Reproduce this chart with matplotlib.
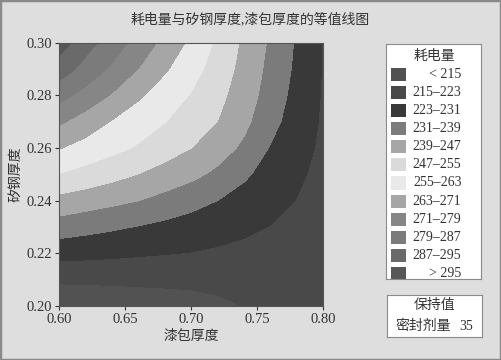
import numpy as np
import matplotlib
matplotlib.use('Agg')
import matplotlib.pyplot as plt
from matplotlib.patches import Rectangle

plt.rcParams['font.family'] = ['Liberation Serif', 'Noto Sans CJK SC']
plt.rcParams['axes.unicode_minus'] = False
text_color = '#333333'
bg_color = '#dedede'

# grid: 漆包厚度 (x) and 矽钢厚度 (y)
qibao = [0.60, 0.62, 0.64, 0.66, 0.68, 0.70, 0.72, 0.74, 0.76, 0.78, 0.80]
guigang = [0.20, 0.21, 0.22, 0.23, 0.24, 0.25, 0.26, 0.27, 0.28, 0.29, 0.30]

# 耗电量, one row per 矽钢厚度 value (bottom to top)
haodian = [
    [207.7, 208.1, 208.5, 209.2, 209.9, 210.8, 213.0, 215.2, 215.8, 216.2, 216.5],
    [216.5, 216.7, 216.9, 217.2, 217.5, 217.8, 218.0, 218.2, 218.3, 218.4, 218.4],
    [225.8, 225.2, 224.6, 223.9, 223.3, 222.8, 222.0, 221.3, 220.6, 220.0, 219.5],
    [235.2, 233.7, 232.2, 230.7, 229.1, 227.5, 225.9, 224.3, 222.8, 221.5, 220.5],
    [244.5, 242.7, 240.9, 239.1, 236.5, 233.8, 231.0, 228.2, 225.4, 222.8, 221.0],
    [254.7, 252.3, 249.6, 246.9, 243.9, 241.0, 237.3, 232.2, 228.0, 224.2, 221.0],
    [263.4, 260.2, 257.2, 254.1, 250.6, 247.0, 242.6, 237.5, 230.5, 226.0, 221.5],
    [272.3, 267.3, 262.5, 258.8, 255.2, 251.1, 246.9, 240.9, 233.5, 227.2, 222.0],
    [281.8, 276.3, 270.3, 264.1, 259.2, 254.5, 249.2, 242.9, 235.6, 228.3, 222.3],
    [291.3, 284.1, 277.7, 270.8, 263.9, 257.9, 251.5, 244.3, 236.8, 229.4, 222.5],
    [299.0, 290.1, 283.1, 276.1, 268.7, 261.2, 253.6, 245.4, 237.8, 230.0, 222.5],
]

levels = [150, 215, 223, 231, 239, 247, 255, 263, 271, 279, 287, 295, 350]
level_labels = ['< 215', '215–223', '223–231', '231–239', '239–247', '247–255',
                '255–263', '263–271', '271–279', '279–287', '287–295', '> 295']
level_colors = ['#525252', '#494949', '#393939', '#7b7b7b', '#a6a6a6', '#dadada',
                '#e9e9e9', '#a6a6a6', '#868686', '#7b7b7b', '#6a6a6a', '#575757']

fig = plt.figure(figsize=(5.01, 3.6), dpi=100, facecolor=bg_color)
fig.patches.append(Rectangle((0, 0), 1, 1, transform=fig.transFigure, fill=False,
                             edgecolor='#8a8a8a', linewidth=2.5))

ax = fig.add_axes([0.1184, 0.1508, 0.527, 0.7306])
X, Y = np.meshgrid(qibao, guigang)
ax.contourf(X, Y, np.array(haodian), levels=levels, colors=level_colors)
ax.set_xlim(0.60, 0.80)
ax.set_ylim(0.20, 0.30)
ax.set_xticks([0.60, 0.65, 0.70, 0.75, 0.80])
ax.set_yticks([0.20, 0.22, 0.24, 0.26, 0.28, 0.30])
ax.xaxis.set_major_formatter(plt.FormatStrFormatter('%.2f'))
ax.yaxis.set_major_formatter(plt.FormatStrFormatter('%.2f'))
ax.tick_params(labelsize=10.5, colors=text_color, length=3, width=0.8, pad=2)
for sp in ax.spines.values():
    sp.set_color('#555555')
    sp.set_linewidth(0.8)
ax.set_xlabel('漆包厚度', fontsize=10, color=text_color, labelpad=3)
ax.set_ylabel('矽钢厚度', fontsize=10, color=text_color, labelpad=3)

fig.text(0.499, 0.948, '耗电量与矽钢厚度,漆包厚度的等值线图', ha='center', va='center',
         fontsize=10, color=text_color)

# legend box
lg = fig.add_axes([0.771, 0.225, 0.190, 0.653])
lg.set_xlim(0, 1)
lg.set_ylim(0, 1)
lg.set_xticks([])
lg.set_yticks([])
lg.set_facecolor('white')
for sp in lg.spines.values():
    sp.set_color('#8a8a8a')
    sp.set_linewidth(0.8)
lg.text(0.5, 0.948, '耗电量', ha='center', va='center', fontsize=10, color=text_color)
step = 0.0771
for i, (lab, col) in enumerate(zip(level_labels, level_colors)):
    yc = 0.871 - i * step
    lg.add_patch(Rectangle((0.05, yc - 0.028), 0.16, 0.056, facecolor=col, edgecolor='none'))
    lg.text(0.79, yc, lab, ha='right', va='center', fontsize=10, color=text_color)

# hold value box
hb = fig.add_axes([0.773, 0.065, 0.189, 0.116])
hb.set_xlim(0, 1)
hb.set_ylim(0, 1)
hb.set_xticks([])
hb.set_yticks([])
hb.set_facecolor('white')
for sp in hb.spines.values():
    sp.set_color('#8a8a8a')
    sp.set_linewidth(0.8)
hb.text(0.5, 0.74, '保持值', ha='center', va='center', fontsize=10, color=text_color)
hb.text(0.09, 0.25, '密封剂量', ha='left', va='center', fontsize=10, color=text_color)
hb.text(0.91, 0.25, '35', ha='right', va='center', fontsize=10, color=text_color)

fig.savefig('out.png', dpi=100, facecolor=bg_color)
